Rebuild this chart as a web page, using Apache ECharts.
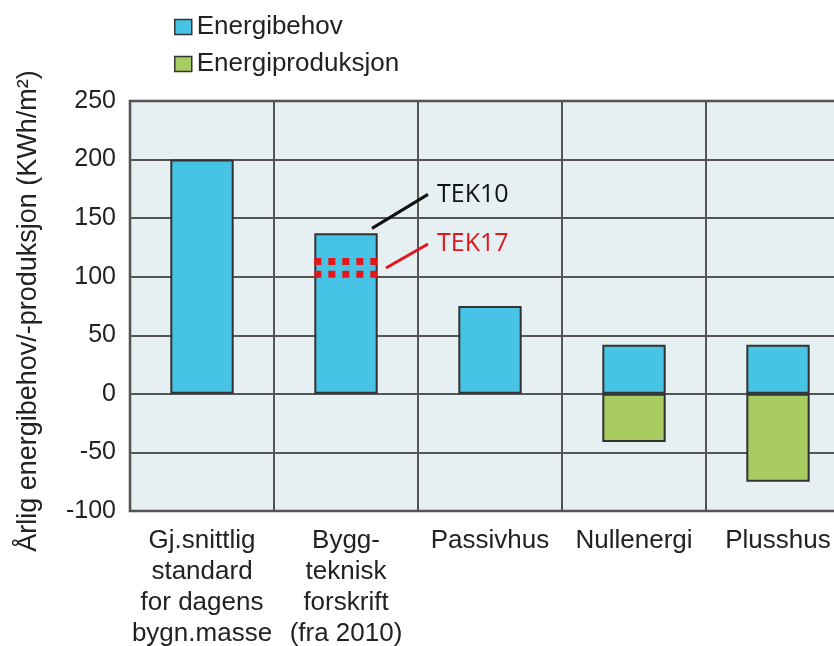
<!DOCTYPE html>
<html>
<head>
<meta charset="utf-8">
<script src="https://cdn.jsdelivr.net/npm/echarts@6/dist/echarts.min.js"></script>
<style>
html,body{margin:0;padding:0;background:#fff;overflow:hidden;}
#chart{width:852px;height:646px;}
</style>
</head>
<body>
<div id="chart"></div>
<script>
const categories = [
  "Gj.snittlig\nstandard\nfor dagens\nbygn.masse",
  "Bygg-\nteknisk\nforskrift\n(fra 2010)",
  "Passivhus",
  "Nullenergi",
  "Plusshus"
];
const seriesNames = ["Energibehov", "Energiproduksjon"];
const energibehov = [200, 137, 75, 42, 42];
const energiproduksjon = ["-", "-", "-", -41, -75];
const yTicks = { min: -100, max: 250, interval: 50 };
const yAxisTitle = "Årlig energibehov/-produksjon (KWh/m²)";
// TEK annotations on category index 1: TEK10 at bar top, TEK17 band
const tekCategory = 1;
const tek10Value = 137;
const tek17Values = [113, 102];
const tekLabels = ["TEK10", "TEK17"];

const BLUE = "#47c4e5", GREEN = "#a8cb62", EDGE = "#333333";
const FONT = "'Liberation Sans', Arial, sans-serif";
const BAR_FRAC = 0.44;

const chart = echarts.init(document.getElementById("chart"), null, { renderer: "canvas" });

function renderTek(params, api) {
  const cx = api.coord([api.value(0), api.value(1)])[0];
  const top = api.coord([api.value(0), api.value(1)]);
  const y1 = api.coord([api.value(0), api.value(2)])[1];
  const y2 = api.coord([api.value(0), api.value(3)])[1];
  const bw = api.size([1, 0])[0] * BAR_FRAC;
  const left = cx - bw / 2, right = cx + bw / 2;
  const mid = (y1 + y2) / 2;
  const dashStyle = { stroke: "#e3161b", lineWidth: 7, lineDash: [7, 7], fill: null };
  return {
    type: "group",
    children: [
      { type: "line", shape: { x1: left, y1: y1, x2: right, y2: y1 }, style: dashStyle },
      { type: "line", shape: { x1: left, y1: y2, x2: right, y2: y2 }, style: dashStyle },
      { type: "line", shape: { x1: cx + 26, y1: top[1] - 5, x2: cx + 82, y2: top[1] - 39 },
        style: { stroke: "#111", lineWidth: 3 } },
      { type: "text", style: { x: cx + 91, y: top[1] - 38, text: tekLabels[0],
        fill: "#111", font: "25px 'Open Sans', sans-serif", textAlign: "left", textVerticalAlign: "middle" } },
      { type: "line", shape: { x1: cx + 40, y1: mid, x2: cx + 82, y2: mid - 24 },
        style: { stroke: "#e3161b", lineWidth: 3 } },
      { type: "text", style: { x: cx + 91, y: mid - 24, text: tekLabels[1],
        fill: "#e3161b", font: "25px 'Open Sans', sans-serif", textAlign: "left", textVerticalAlign: "middle" } }
    ]
  };
}

const option = {
  animation: false,
  backgroundColor: "#ffffff",
  textStyle: { fontFamily: FONT },
  legend: {
    orient: "vertical",
    left: 169,
    top: 9,
    itemWidth: 17,
    itemHeight: 15,
    itemGap: 11,
    icon: "rect",
    textStyle: { fontSize: 26, color: "#222", fontFamily: FONT },
    data: [
      { name: seriesNames[0], itemStyle: { color: BLUE, borderColor: EDGE, borderWidth: 1.5 } },
      { name: seriesNames[1], itemStyle: { color: GREEN, borderColor: EDGE, borderWidth: 1.5 } }
    ]
  },
  grid: {
    left: 130, top: 101, width: 720, height: 410,
    outerBoundsMode: "none",
    containLabel: false,
    show: true, backgroundColor: "#e6eff2", borderColor: "#444", borderWidth: 2.5
  },
  xAxis: {
    type: "category",
    data: categories,
    boundaryGap: true,
    axisLine: { show: false },
    axisTick: { show: false },
    splitLine: { show: true, lineStyle: { color: "#555", width: 2 } },
    axisLabel: { interval: 0, fontSize: 26, lineHeight: 31, color: "#222", margin: 14, fontFamily: FONT }
  },
  yAxis: {
    type: "value",
    min: yTicks.min, max: yTicks.max, interval: yTicks.interval,
    name: yAxisTitle,
    nameLocation: "middle",
    nameGap: 88,
    nameTextStyle: { fontSize: 27, color: "#222", fontFamily: FONT, padding: [0, 10, 0, 0] },
    axisLine: { show: false },
    axisTick: { show: false },
    splitLine: { show: true, lineStyle: { color: "#555", width: 2 } },
    axisLabel: { fontSize: 25, color: "#222", margin: 14, fontFamily: FONT }
  },
  series: [
    {
      name: seriesNames[0], type: "bar", stack: "e", barWidth: (BAR_FRAC * 100) + "%",
      data: energibehov,
      itemStyle: { color: BLUE, borderColor: EDGE, borderWidth: 2 }
    },
    {
      name: seriesNames[1], type: "bar", stack: "e", barWidth: (BAR_FRAC * 100) + "%",
      data: energiproduksjon,
      itemStyle: { color: GREEN, borderColor: EDGE, borderWidth: 2 }
    },
    {
      type: "custom",
      renderItem: renderTek,
      data: [[tekCategory, tek10Value, tek17Values[0], tek17Values[1]]],
      z: 10,
      silent: true
    }
  ]
};
chart.setOption(option);
</script>
</body>
</html>
